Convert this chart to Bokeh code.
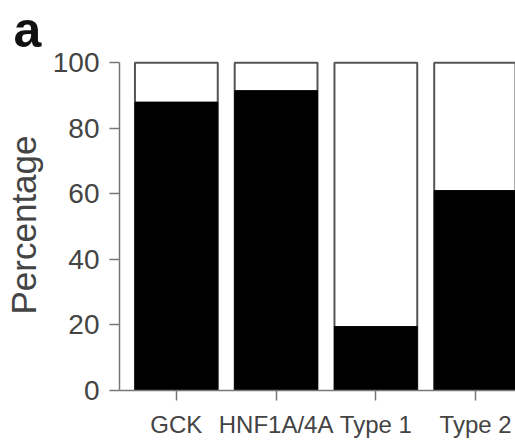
from bokeh.plotting import figure
from bokeh.models import Range1d, FixedTicker, Title, ColumnDataSource
from bokeh.embed import file_html
from bokeh.resources import INLINE

categories = ["GCK", "HNF1A/4A", "Type 1", "Type 2"]
positions = [0, 1, 2, 3]
black_pct = [88, 91.5, 19.5, 61]
total_pct = [100, 100, 100, 100]
y_ticks = [0, 20, 40, 60, 80, 100]

src = ColumnDataSource(dict(x=positions, black=black_pct, total=total_pct))

p = figure(width=515, height=445, x_range=Range1d(-0.57, 3.40), y_range=Range1d(0, 101),
           output_backend="svg", toolbar_location=None,
           min_border_left=118, min_border_top=59, min_border_bottom=55, min_border_right=0)
p.outline_line_color = None
p.xgrid.visible = False
p.ygrid.visible = False
p.background_fill_color = "white"
p.border_fill_color = "white"

p.vbar(x="x", top="total", bottom=0, width=0.83, source=src,
       fill_color="white", line_color="#555555", line_width=2)
p.vbar(x="x", top="black", bottom=0, width=0.83, source=src,
       fill_color="black", line_color="black", line_width=1)

FONT = "Liberation Sans"
ya = p.yaxis[0]
ya.ticker = FixedTicker(ticks=y_ticks)
ya.bounds = (0, 100)
ya.axis_line_color = "#777777"
ya.axis_line_width = 1.5
ya.major_tick_line_color = "#777777"
ya.major_tick_line_width = 1.5
ya.major_tick_out = 10
ya.major_tick_in = 0
ya.minor_tick_line_color = None
ya.major_label_text_font = FONT
ya.major_label_text_font_size = "28px"
ya.major_label_text_color = "#444444"
ya.major_label_standoff = 10
ya.axis_label = "Percentage"
ya.axis_label_text_font = FONT
ya.axis_label_text_font_size = "35px"
ya.axis_label_text_font_style = "normal"
ya.axis_label_text_color = "#444444"
ya.axis_label_standoff = 7

xa = p.xaxis[0]
xa.ticker = FixedTicker(ticks=positions)
xa.major_label_overrides = {pos: name for pos, name in zip(positions, categories)}
xa.axis_line_color = "#777777"
xa.axis_line_width = 1.5
xa.major_tick_line_color = "#777777"
xa.major_tick_line_width = 1.5
xa.major_tick_out = 10
xa.major_tick_in = 0
xa.minor_tick_line_color = None
xa.major_label_text_font = FONT
xa.major_label_text_font_size = "24px"
xa.major_label_text_color = "#444444"
xa.major_label_standoff = 10

p.add_layout(Title(text="a", align="left", offset=-106, standoff=0, vertical_align="top",
                   text_font=FONT, text_font_size="50px", text_font_style="bold",
                   text_color="#111111"), "above")

open("out.html", "w").write(file_html(p, INLINE))
